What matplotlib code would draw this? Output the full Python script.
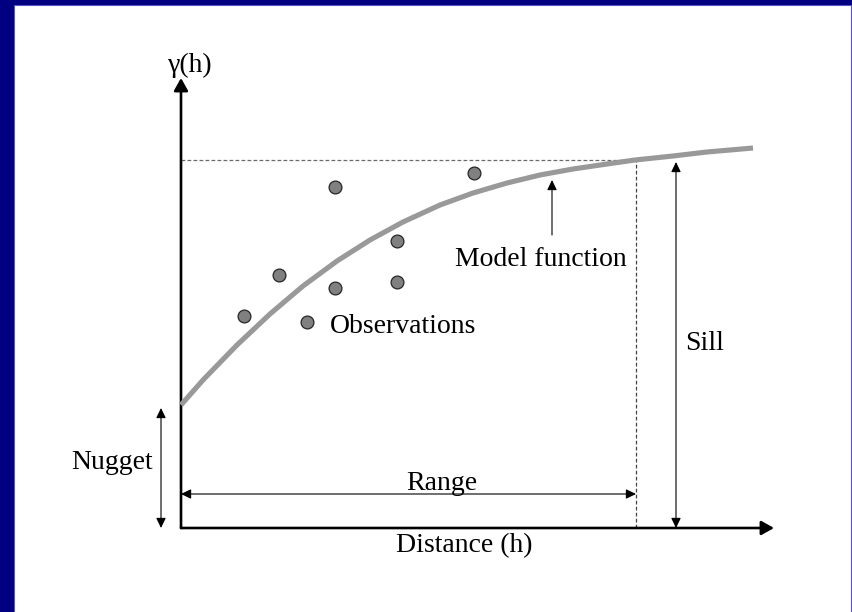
import matplotlib
matplotlib.use("Agg")
import matplotlib.pyplot as plt
from matplotlib.patches import Rectangle, ArrowStyle

# ---- data (units: distance h, semivariance gamma) ----
obs_h = [62.7, 97.7, 153.7, 153.7, 216.3, 216.3, 293.0]
obs_gamma = [212.3, 253.0, 340.7, 240.0, 287.3, 246.3, 354.7]
legend_marker = (125.7, 205.7)

curve_h = [0, 22, 56, 89, 122, 156, 189, 222, 259, 292, 326, 359, 392, 426, 454, 492, 526, 572]
curve_gamma = [123, 148, 183, 214, 242, 267, 288, 306, 323, 335, 345, 353, 359, 364, 368, 372, 376, 380]

nugget = 120
sill = 368
range_h = 455
axis_h_max = 593
axis_gamma_max = 450

labels = {
    "ylabel": "γ(h)",
    "xlabel": "Distance (h)",
    "nugget": "Nugget",
    "range": "Range",
    "sill": "Sill",
    "obs": "Observations",
    "model": "Model function",
}

FONT = "Liberation Serif"
FS = 20

fig = plt.figure(figsize=(8.52, 6.12), dpi=100, facecolor="#000080")
# white panel
fig.patches.append(Rectangle((14 / 852, -0.01), (851 - 14) / 852, (612 - 5) / 612 + 0.01,
                             transform=fig.transFigure, facecolor="white",
                             edgecolor="#5555c8", linewidth=0.8, zorder=-10))

ax = fig.add_axes([0, 0, 1, 1], zorder=5)
ax.set_xlim(-181, 671)
ax.set_ylim(-84, 528)
ax.axis("off")
ax.patch.set_alpha(0)


def arrow(x0, y0, x1, y1, lw=0.8, hl=6.0, hw=2.9, both=False, color="black"):
    style = ArrowStyle("<|-|>" if both else "-|>", head_length=hl, head_width=hw)
    ax.annotate("", xy=(x1, y1), xytext=(x0, y0),
                arrowprops=dict(arrowstyle=style, mutation_scale=1, lw=lw,
                                color=color, shrinkA=0, shrinkB=0))


# dashed reference lines
ax.plot([0, range_h], [sill, sill], ls=(0, (3, 1.8)), color="#6a6a6a", lw=0.9)
ax.plot([range_h, range_h], [0, sill], ls=(0, (3, 1.8)), color="#444444", lw=0.9)

# axes arrows
arrow(0, 0, 0, axis_gamma_max, lw=1.9, hl=7.5, hw=4.2)
arrow(0, 0, axis_h_max, 0, lw=1.9, hl=7.5, hw=4.2)

# model curve
ax.plot(curve_h, curve_gamma, color="#999999", lw=3.7, solid_capstyle="butt",
        solid_joinstyle="round", zorder=3)

# observations
ax.scatter(obs_h, obs_gamma, s=85, facecolor="#808080", edgecolor="#262626", linewidth=0.9, zorder=4)
ax.scatter([legend_marker[0]], [legend_marker[1]], s=85, facecolor="#808080",
           edgecolor="#262626", linewidth=0.9, zorder=4)

# annotation arrows
arrow(0, 34, range_h, 34, both=True)
arrow(495, 0, 495, sill - 2, both=True)
arrow(-20, 0, -20, nugget, both=True)
arrow(371, 293, 371, 348)

# texts
tk = dict(family=FONT, fontsize=FS, va="baseline")
ax.text(9, 456, labels["ylabel"], ha="center", **tk)
ax.text(283, -24, labels["xlabel"], ha="center", **tk)
ax.text(-28, 59, labels["nugget"], ha="right", **tk)
ax.text(261, 38, labels["range"], ha="center", **tk)
ax.text(504, 178, labels["sill"], ha="left", **tk)
ax.text(149, 195, labels["obs"], ha="left", **tk)
ax.text(274, 262, labels["model"], ha="left", **tk)

fig.savefig("out.png", dpi=100, facecolor=fig.get_facecolor())
